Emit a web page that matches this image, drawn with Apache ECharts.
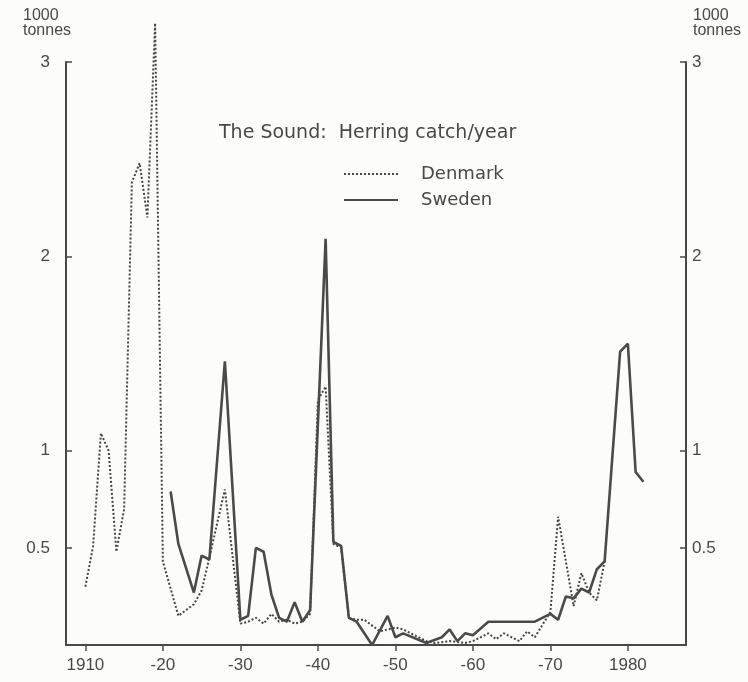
<!DOCTYPE html>
<html>
<head>
<meta charset="utf-8">
<script src="https://cdn.jsdelivr.net/npm/echarts@6/dist/echarts.min.js"></script>
<style>
  html, body { margin: 0; padding: 0; background: #fcfcfa; }
  #chart { width: 748px; height: 682px; }
</style>
</head>
<body>
<div id="chart"></div>
<script>
// herring catch in the Sound, 1000 tonnes (vertices only)
const denmarkYears = [1910, 1911, 1912, 1913, 1914, 1915, 1916, 1917, 1918, 1919, 1920, 1922, 1923, 1924, 1925, 1926, 1928, 1930,
    1931, 1932, 1933, 1934, 1935, 1936, 1937, 1938, 1939, 1940, 1941, 1942, 1943, 1944, 1945, 1946, 1948, 1950, 1951, 1954,
    1955, 1957, 1959, 1960, 1962, 1963, 1964, 1966, 1967, 1968, 1970, 1971, 1973, 1974, 1975, 1976, 1977]
const denmarkCatch = [0.30, 0.51, 1.09, 1.00, 0.48, 0.70, 2.38, 2.48, 2.20, 3.20, 0.43, 0.15, 0.18, 0.21, 0.28, 0.45, 0.80, 0.11,
    0.12, 0.14, 0.11, 0.16, 0.12, 0.13, 0.11, 0.12, 0.16, 1.26, 1.33, 0.52, 0.50, 0.14, 0.13, 0.13, 0.07, 0.09, 0.08, 0.02,
    0.01, 0.02, 0.01, 0.02, 0.06, 0.03, 0.06, 0.02, 0.07, 0.04, 0.17, 0.66, 0.20, 0.37, 0.27, 0.23, 0.43]

const swedenYears = [1921, 1922, 1924, 1925, 1926, 1928, 1930, 1931, 1932, 1933, 1934, 1935, 1936, 1937, 1938, 1939, 1941,
    1942, 1943, 1944, 1945, 1947, 1949, 1950, 1951, 1954, 1956, 1957, 1958, 1959, 1960, 1962, 1968, 1970, 1971, 1972,
    1973, 1974, 1975, 1976, 1977, 1979, 1980, 1981, 1982]
const swedenCatch = [0.79, 0.52, 0.27, 0.46, 0.44, 1.46, 0.13, 0.15, 0.50, 0.48, 0.26, 0.14, 0.12, 0.22, 0.12, 0.18, 2.09,
    0.53, 0.51, 0.14, 0.12, 0.00, 0.15, 0.04, 0.06, 0.01, 0.04, 0.08, 0.02, 0.06, 0.05, 0.12, 0.12, 0.16, 0.13, 0.25,
    0.24, 0.29, 0.27, 0.39, 0.43, 1.51, 1.55, 0.89, 0.84]

const yearTicks = [1910, 1920, 1930, 1940, 1950, 1960, 1970, 1980]
const catchTicks = [0.5, 1, 2, 3]

const ink = '#484848'
const font = "'Liberation Sans Narrow', 'Liberation Sans', sans-serif"
const titleFont = "'DejaVu Sans', sans-serif"

const chart = echarts.init(document.getElementById('chart'))

const yAxisBase = {
    type: 'value',
    min: 0,
    max: 3,
    splitLine: { show: false },
    axisLine: { show: true, lineStyle: { color: ink, width: 2 } },
    axisTick: { show: true, inside: true, length: 6, customValues: catchTicks, lineStyle: { color: ink, width: 1.5 } },
    axisLabel: { customValues: catchTicks, color: ink, fontFamily: font, fontSize: 17 }
}

chart.setOption({
    backgroundColor: '#fcfcfa',
    animation: false,
    grid: { left: 66, right: 62, top: 62, bottom: 37 },
    title: {
        text: 'The Sound:  Herring catch/year',
        left: 214,
        top: 119,
        textStyle: { color: ink, fontFamily: titleFont, fontSize: 19, fontWeight: 'normal' }
    },
    legend: {
        orient: 'vertical',
        left: 338,
        top: 160,
        itemWidth: 54,
        itemHeight: 12,
        itemGap: 8,
        itemStyle: { opacity: 0 },
        textStyle: { color: ink, fontFamily: titleFont, fontSize: 18, padding: [0, 0, 0, 18] },
        data: ['Denmark', 'Sweden']
    },
    graphic: [
        { type: 'text', left: 23, top: 8, style: { text: '1000\ntonnes', fill: ink, font: '16px ' + font, lineHeight: 15 } },
        { type: 'text', left: 693, top: 8, style: { text: '1000\ntonnes', fill: ink, font: '16px ' + font, lineHeight: 15 } }
    ],
    xAxis: {
        type: 'value',
        min: 1907.5,
        max: 1987.5,
        splitLine: { show: false },
        axisLine: { show: true, onZero: false, lineStyle: { color: ink, width: 2 } },
        axisTick: { show: true, length: 6, customValues: yearTicks, lineStyle: { color: ink, width: 1.5 } },
        axisLabel: {
            customValues: yearTicks,
            margin: 12,
            color: ink,
            fontFamily: font,
            fontSize: 17,
            formatter: v => (v === 1910 || v === 1980) ? String(v) : '-' + (v % 100)
        }
    },
    yAxis: [
        Object.assign({}, yAxisBase, { position: 'left', axisLabel: Object.assign({}, yAxisBase.axisLabel, { margin: 16 }) }),
        Object.assign({}, yAxisBase, { position: 'right', axisLabel: Object.assign({}, yAxisBase.axisLabel, { margin: 6 }) })
    ],
    series: [
        {
            name: 'Denmark',
            type: 'line',
            clip: false,
            symbol: 'none',
            data: denmarkYears.map((y, i) => [y, denmarkCatch[i]]),
            lineStyle: { color: '#444', width: 2, type: [2, 2] },
            itemStyle: { color: '#444' }
        },
        {
            name: 'Sweden',
            type: 'line',
            clip: false,
            symbol: 'none',
            data: swedenYears.map((y, i) => [y, swedenCatch[i]]),
            lineStyle: { color: '#4a4a4a', width: 2.6 },
            itemStyle: { color: '#4a4a4a' }
        }
    ]
})
</script>
</body>
</html>
